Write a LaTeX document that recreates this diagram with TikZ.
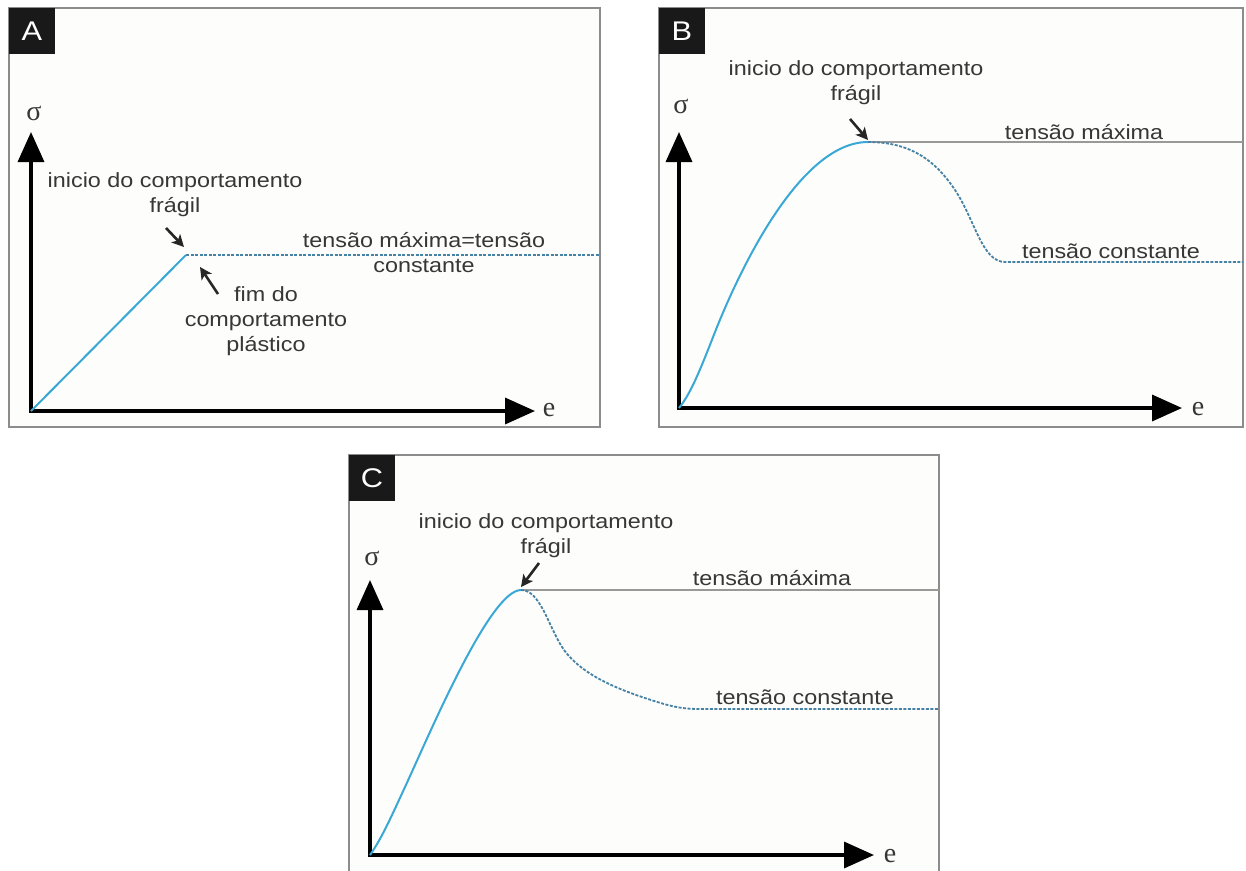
\documentclass[tikz,border=0pt]{standalone}
\usepackage{fontspec}
\setmainfont{Liberation Sans}[FakeStretch=1.14]
\newfontfamily\axisfont{Liberation Serif}
\usetikzlibrary{arrows.meta}
\definecolor{curveblue}{RGB}{58,168,214}
\definecolor{dashblue}{RGB}{70,130,165}
\definecolor{framegray}{RGB}{140,140,140}
\definecolor{panelbg}{RGB}{253,253,251}
\definecolor{txtgray}{RGB}{55,55,55}
\begin{document}
\begin{tikzpicture}[x=1pt,y=-1pt,
  frame/.style={draw=framegray,line width=1.5pt,fill=panelbg},
  labbox/.style={fill=black!90,text=white,minimum width=46pt,minimum height=46pt,inner sep=0pt,font=\fontsize{27}{27}\selectfont},
  axisline/.style={line width=3.5pt,{Triangle[length=30pt,width=26pt]}-{Triangle[length=30pt,width=26pt]}},
  axlbl/.style={font=\axisfont\fontsize{28}{28}\selectfont,text=txtgray,inner sep=0pt},
  curve/.style={curveblue,line width=2pt},
  curvedash/.style={dashblue,line width=1.8pt,dash pattern=on 3pt off 1.5pt},
  maxline/.style={black!40,line width=1.2pt},
  lbl/.style={font=\fontsize{20.5}{25}\selectfont,text=txtgray,align=center,inner sep=0pt},
  pointer/.style={line width=2.6pt,black!85,-{Stealth[length=12pt,width=12pt,inset=3pt]}}]
\useasboundingbox (0,0) rectangle (1246,870);
\fill[white] (0,0) rectangle (1246,870);

% ---------------- Panel A ----------------
\draw[frame] (9,8) rectangle (600,427);
\node[labbox] (boxA) at (32,31) {A};
\coordinate (oA) at (31,411);
\coordinate (yA) at (31,132);
\coordinate (xA) at (535,411);
\draw[axisline] (yA) -- (oA) -- (xA);
\node[axlbl] (sigA) at (34,113) {σ};
\node[axlbl] (eA) at (549,410) {e};
\coordinate (kA) at (186,255);
\coordinate (endA) at (600,255);
\draw[curve] (oA) -- (kA);
\draw[curvedash] (kA) -- (endA);
\node[lbl] (iniA) at (175,195) {inicio do comportamento\\frágil};
\coordinate (a1s) at (166,228);
\coordinate (a1e) at (184,247);
\draw[pointer] (a1s) -- (a1e);
\node[lbl] (tmA) at (424,253) {tensão máxima=tensão\\constante};
\node[lbl] (fimA) at (266,321) {fim do\\comportamento\\plástico};
\coordinate (a2s) at (218,294);
\coordinate (a2e) at (200,267);
\draw[pointer] (a2s) -- (a2e);

% ---------------- Panel B ----------------
\draw[frame] (659,8) rectangle (1243,427);
\node[labbox] (boxB) at (682,31) {B};
\coordinate (oB) at (679,408);
\coordinate (yB) at (679,132);
\coordinate (xB) at (1182,408);
\draw[axisline] (yB) -- (oB) -- (xB);
\node[axlbl] (sigB) at (681,106) {σ};
\node[axlbl] (eB) at (1198,409) {e};
\coordinate (pB) at (868,142);
\coordinate (mB) at (1243,142);
\coordinate (cB) at (1005,262);
\coordinate (cendB) at (1243,262);
\draw[maxline] (pB) -- (mB);
\draw[curve] (oB) .. controls (692,392) and (702,365) .. (717,327)
   .. controls (740,270) and (800,142) .. (pB);
\draw[curvedash] (pB) .. controls (910,142) and (935,160) .. (955,190)
   .. controls (975,220) and (982,262) .. (cB) -- (cendB);
\node[lbl] (iniB) at (856,83) {inicio do comportamento\\frágil};
\coordinate (b1s) at (850,119);
\coordinate (b1e) at (868,140);
\draw[pointer] (b1s) -- (b1e);
\node[lbl] (tmB) at (1084,132) {tensão máxima};
\node[lbl] (tcB) at (1111,251) {tensão constante};

% ---------------- Panel C ----------------
\fill[panelbg] (349,455) rectangle (939,872);
\draw[framegray,line width=1.5pt] (349,872) -- (349,455) -- (939,455) -- (939,872);
\node[labbox] (boxC) at (372,478) {C};
\coordinate (oC) at (370,855);
\coordinate (yC) at (370,580);
\coordinate (xC) at (874,855);
\draw[axisline] (yC) -- (oC) -- (xC);
\node[axlbl] (sigC) at (372,558) {σ};
\node[axlbl] (eC) at (890,856) {e};
\coordinate (pC) at (521,590);
\coordinate (mC) at (939,590);
\coordinate (cC) at (700,709);
\coordinate (cendC) at (939,709);
\draw[maxline] (pC) -- (mC);
\draw[curve] (oC) .. controls (382,838) and (392,815) .. (405,787)
   .. controls (430,733) and (490,590) .. (pC);
\draw[curvedash] (pC) .. controls (540,590) and (548,625) .. (562,647)
   .. controls (580,675) and (620,690) .. (651,700)
   .. controls (670,706) and (680,709) .. (cC) -- (cendC);
\node[lbl] (iniC) at (546,536) {inicio do comportamento\\frágil};
\coordinate (c1s) at (539,563);
\coordinate (c1e) at (521,587);
\draw[pointer] (c1s) -- (c1e);
\node[lbl] (tmC) at (772,578) {tensão máxima};
\node[lbl] (tcC) at (805,697) {tensão constante};
\end{tikzpicture}
\end{document}
